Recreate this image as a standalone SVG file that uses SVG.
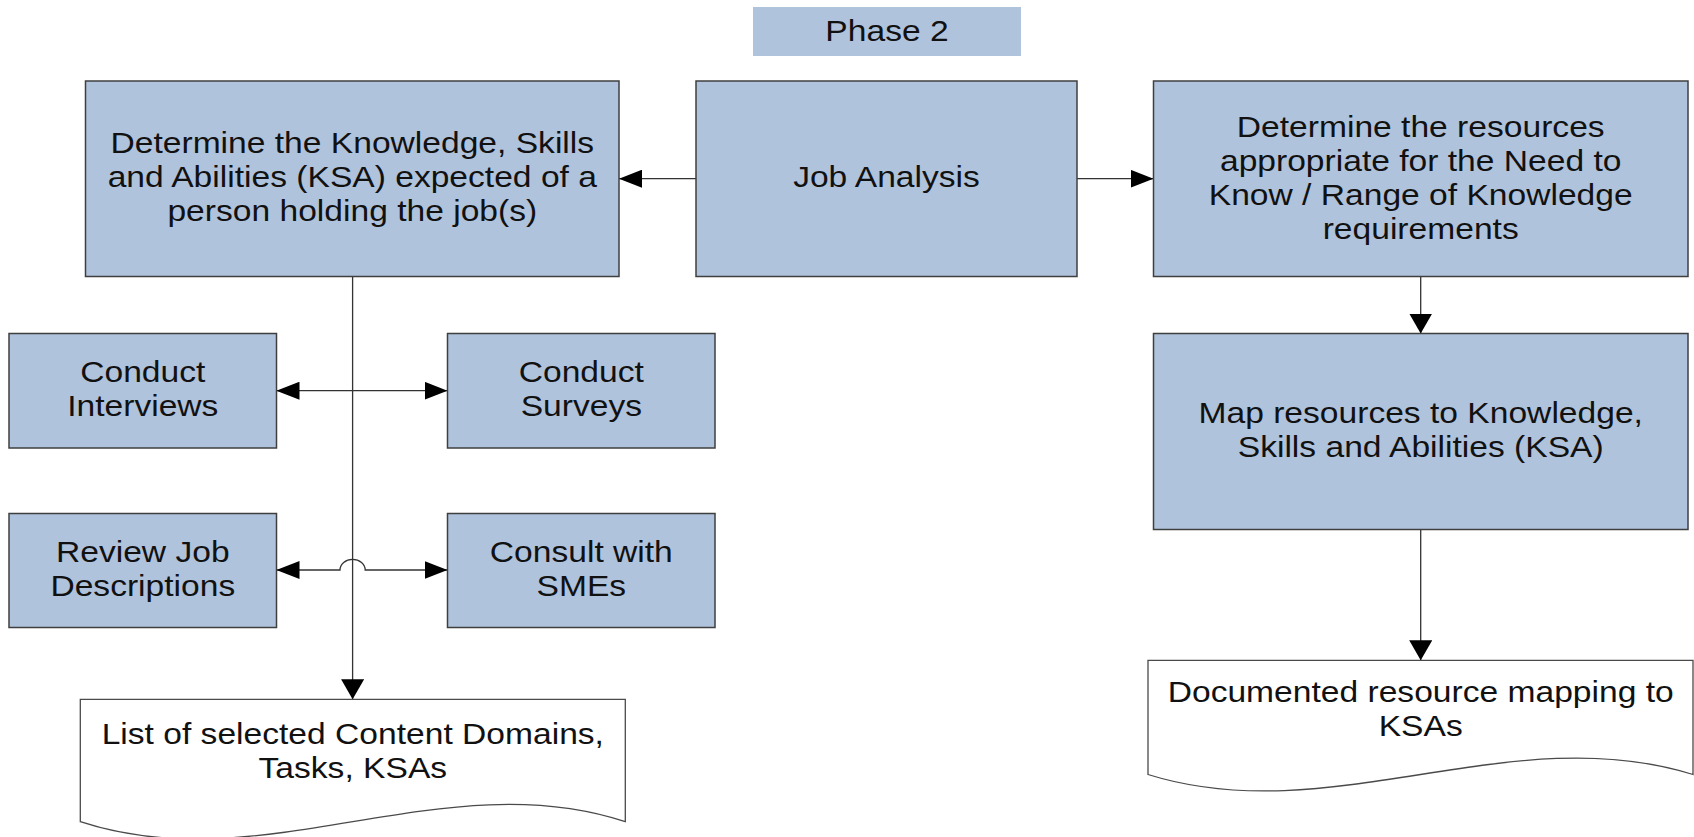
<svg xmlns="http://www.w3.org/2000/svg" width="1694" height="837" viewBox="0 0 1694 837">
<defs>
<style>
.box{fill:#B0C3DC;stroke:#3F3F3F;stroke-width:1.5}
.phase{fill:#B0C3DC}
.doc{fill:#FFFFFF;stroke:#4A4A4A;stroke-width:1.3}
.t{font-family:"Liberation Sans",Arial,sans-serif;font-size:30px;fill:#111111;text-anchor:middle}
.c{fill:none;stroke:#333333;stroke-width:1.3}
</style>
<marker id="ah" markerUnits="userSpaceOnUse" markerWidth="23" markerHeight="18" refX="23" refY="9" orient="auto-start-reverse"><path d="M0,0 L23,9 L0,18 z" fill="#000000"/></marker>
<marker id="av" markerUnits="userSpaceOnUse" markerWidth="20" markerHeight="23" refX="20" refY="11.5" orient="auto"><path d="M0,0 L20,11.5 L0,23 z" fill="#000000"/></marker>
</defs>
<rect x="0" y="0" width="1694" height="837" fill="#FFFFFF"/>

<g id="connectors">
<path class="c" d="M696,178.7 H619" marker-end="url(#ah)"/>
<path class="c" d="M1077,178.7 H1153.5" marker-end="url(#ah)"/>
<path class="c" d="M1420.7,276.5 V333.5" marker-end="url(#av)"/>
<path class="c" d="M1420.7,529.5 V660.3" marker-end="url(#av)"/>
<path class="c" d="M352.6,276.5 V699.3" marker-end="url(#av)"/>
<path class="c" d="M276.5,390.7 H447.5" marker-start="url(#ah)" marker-end="url(#ah)"/>
<path class="c" d="M276.5,570 H340 A12.6,10.7 0 0 1 365.2,570 H447.5" marker-start="url(#ah)" marker-end="url(#ah)"/>
</g>

<g id="phase2">
<rect class="phase" x="753" y="7" width="268" height="49"/>
<text class="t" transform="translate(887 0) scale(1.12 1)"><tspan x="0" y="41.5">Phase 2</tspan></text>
</g>

<g id="ksa">
<rect class="box" x="85.5" y="81" width="533.5" height="195.5"/>
<text class="t" transform="translate(352.3 0) scale(1.12 1)"><tspan x="0" y="152.7">Determine the Knowledge, Skills</tspan><tspan x="0" y="186.9">and Abilities (KSA) expected of a</tspan><tspan x="0" y="221.1">person holding the job(s)</tspan></text>
</g>

<g id="job-analysis">
<rect class="box" x="696" y="81" width="381" height="195.5"/>
<text class="t" transform="translate(886.5 0) scale(1.12 1)"><tspan x="0" y="187">Job Analysis</tspan></text>
</g>

<g id="resources">
<rect class="box" x="1153.5" y="81" width="534.5" height="195.5"/>
<text class="t" transform="translate(1420.7 0) scale(1.12 1)"><tspan x="0" y="136.6">Determine the resources</tspan><tspan x="0" y="170.8">appropriate for the Need to</tspan><tspan x="0" y="205">Know / Range of Knowledge</tspan><tspan x="0" y="239.2">requirements</tspan></text>
</g>

<g id="map-resources">
<rect class="box" x="1153.5" y="333.5" width="534.5" height="196"/>
<text class="t" transform="translate(1420.7 0) scale(1.12 1)"><tspan x="0" y="422.9">Map resources to Knowledge,</tspan><tspan x="0" y="457.1">Skills and Abilities (KSA)</tspan></text>
</g>

<g id="interviews">
<rect class="box" x="9" y="333.5" width="267.5" height="114.5"/>
<text class="t" transform="translate(142.8 0) scale(1.12 1)"><tspan x="0" y="382.1">Conduct</tspan><tspan x="0" y="416.3">Interviews</tspan></text>
</g>

<g id="surveys">
<rect class="box" x="447.5" y="333.5" width="267.5" height="114.5"/>
<text class="t" transform="translate(581.3 0) scale(1.12 1)"><tspan x="0" y="382.1">Conduct</tspan><tspan x="0" y="416.3">Surveys</tspan></text>
</g>

<g id="review">
<rect class="box" x="9" y="513.5" width="267.5" height="114"/>
<text class="t" transform="translate(142.8 0) scale(1.12 1)"><tspan x="0" y="561.9">Review Job</tspan><tspan x="0" y="596.1">Descriptions</tspan></text>
</g>

<g id="consult">
<rect class="box" x="447.5" y="513.5" width="267.5" height="114"/>
<text class="t" transform="translate(581.3 0) scale(1.12 1)"><tspan x="0" y="561.9">Consult with</tspan><tspan x="0" y="596.1">SMEs</tspan></text>
</g>

<g id="list-doc">
<path class="doc" d="M80.3,699.3 H625.3 V821.7 C443.6,761.7 262,881.7 80.3,821.7 Z"/>
<text class="t" transform="translate(352.8 0) scale(1.12 1)"><tspan x="0" y="744.3">List of selected Content Domains,</tspan><tspan x="0" y="778.5">Tasks, KSAs</tspan></text>
</g>

<g id="mapping-doc">
<path class="doc" d="M1148,660.3 H1693 V774.5 C1511.3,717.5 1329.7,831.5 1148,774.5 Z"/>
<text class="t" transform="translate(1420.7 0) scale(1.12 1)"><tspan x="0" y="702">Documented resource mapping to</tspan><tspan x="0" y="736">KSAs</tspan></text>
</g>
</svg>
